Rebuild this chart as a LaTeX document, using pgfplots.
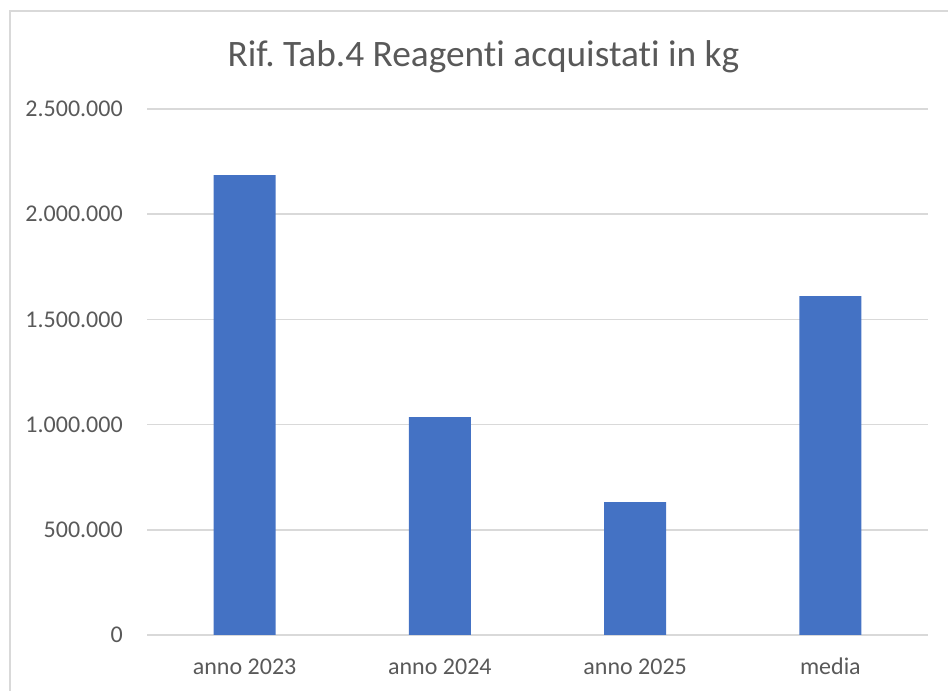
\documentclass[border=0pt]{standalone}
\usepackage{pgfplots}
\pgfplotsset{compat=1.18}
\usepackage{fontspec}
\setmainfont{Carlito}[Ligatures={NoCommon}]
\definecolor{barblue}{HTML}{4472C4}
\definecolor{txtgray}{HTML}{595959}
\definecolor{gridgray}{HTML}{D9D9D9}
\begin{document}
\frenchspacing
\begin{tikzpicture}
\path[use as bounding box] (0pt,0pt) rectangle (711pt,518.25pt);
\draw[gridgray,line width=1.1pt] (7.5pt,0pt) -- (7.5pt,510pt) -- (711pt,510pt);
\node[anchor=base,font=\fontsize{28}{32}\selectfont,text=txtgray,inner sep=0pt] at (362.6pt,468pt) {Rif. Tab.4 Reagenti acquistati in kg};
\begin{axis}[
  at={(110.25pt,42pt)}, anchor=south west,
  scale only axis, width=585.75pt, height=394.5pt,
  xmin=-0.5, xmax=3.5, ymin=0, ymax=2500000,
  axis line style={draw=none},
  ybar, bar width=46.5pt, bar shift=0pt,
  xtick=data, xticklabels={anno 2023,anno 2024,anno 2025,media},
  ytick={0,500000,1000000,1500000,2000000,2500000},
  yticklabels={0,500.000,1.000.000,1.500.000,2.000.000,2.500.000},
  scaled y ticks=false,
  ymajorgrids, grid style={gridgray,line width=1.1pt},
  major tick length=0pt, tick style={draw=none},
  tick label style={font=\fontsize{18}{22}\selectfont,text=txtgray,inner sep=0pt},
  yticklabel style={anchor=east,xshift=-18pt},
  xticklabel style={anchor=base,yshift=-30pt},
  clip=false,
]
\addplot[fill=barblue,draw=none] coordinates {(0,2186000) (1,1036000) (2,632000) (3,1611000)};
\end{axis}
\end{tikzpicture}
\end{document}
